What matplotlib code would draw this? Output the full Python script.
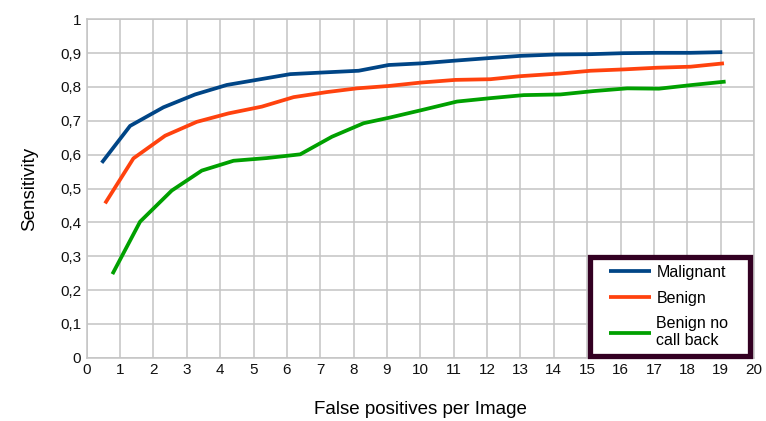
import matplotlib
matplotlib.use("Agg")
import matplotlib.pyplot as plt
from matplotlib.patches import Rectangle
from matplotlib.ticker import FuncFormatter, MultipleLocator

plt.rcParams['font.family'] = ['Liberation Sans', 'DejaVu Sans']

x_malignant = [0.45, 1.3, 2.3, 3.25, 4.2, 5.15, 6.1, 7.1, 8.15, 9.05, 10.05, 11.05, 12.0, 13.0, 14.05, 15.1, 16.1, 17.1, 18.1, 19.05]
y_malignant = [0.576, 0.685, 0.740, 0.778, 0.806, 0.822, 0.838, 0.843, 0.848, 0.865, 0.870, 0.878, 0.885, 0.892, 0.896, 0.897, 0.900, 0.901, 0.901, 0.903]

x_benign = [0.55, 1.4, 2.35, 3.3, 4.25, 5.25, 6.2, 7.2, 8.1, 9.05, 10.0, 11.05, 12.1, 13.0, 14.2, 15.1, 16.1, 17.1, 18.1, 19.1]
y_benign = [0.456, 0.589, 0.656, 0.697, 0.722, 0.742, 0.770, 0.785, 0.796, 0.803, 0.813, 0.821, 0.823, 0.832, 0.840, 0.848, 0.852, 0.857, 0.860, 0.870]

x_nocb = [0.77, 1.6, 2.55, 3.45, 4.4, 5.4, 6.4, 7.35, 8.3, 9.1, 10.05, 11.1, 12.1, 13.1, 14.2, 15.2, 16.2, 17.15, 18.15, 19.15]
y_nocb = [0.247, 0.402, 0.494, 0.553, 0.582, 0.590, 0.601, 0.653, 0.693, 0.710, 0.732, 0.757, 0.767, 0.776, 0.778, 0.788, 0.796, 0.795, 0.806, 0.816]

series_labels = ["Malignant", "Benign", "Benign no\ncall back"]
colors = ["#004586", "#ff420e", "#00a000"]

fig = plt.figure(figsize=(7.66, 4.21), dpi=100)
ax = fig.add_axes([0.1132, 0.1504, 0.8711, 0.8037])

for xs, ys, lab, c in zip([x_malignant, x_benign, x_nocb],
                          [y_malignant, y_benign, y_nocb],
                          series_labels, colors):
    ax.plot(xs, ys, color=c, lw=2.7, label=lab, solid_capstyle='butt', solid_joinstyle='round')

ax.set_xlim(0, 20)
ax.set_ylim(0, 1)
ax.xaxis.set_major_locator(MultipleLocator(1))
ax.yaxis.set_major_locator(MultipleLocator(0.1))
ax.yaxis.set_major_formatter(FuncFormatter(lambda v, p: "0" if abs(v) < 1e-9 else ("1" if abs(v-1) < 1e-9 else f"{v:.1f}".replace(".", ","))))
ax.grid(True, color="#c4c4c4", lw=1.1)
ax.set_axisbelow(True)
for s in ax.spines.values():
    s.set_color("#c4c4c4")
    s.set_linewidth(1.1)
ax.tick_params(length=0, labelsize=11, colors="#111111", pad=4)

ax.set_xlabel("False positives per Image", fontsize=13.5, labelpad=17)
ax.set_ylabel("Sensitivity", fontsize=13.5, labelpad=16)

# legend frame
ax.add_patch(Rectangle((0.754, 0.005), 0.24, 0.294, transform=ax.transAxes,
                       facecolor="white", edgecolor="#330022", lw=3.8, zorder=5,
                       clip_on=False))
leg = ax.legend(loc="upper left", bbox_to_anchor=(0.783, 0.274), fontsize=11.5,
                frameon=False, handlelength=2.6, handletextpad=0.35,
                borderpad=0, labelspacing=0.66, borderaxespad=0)
leg.set_zorder(6)

fig.savefig("out.png", dpi=100)
